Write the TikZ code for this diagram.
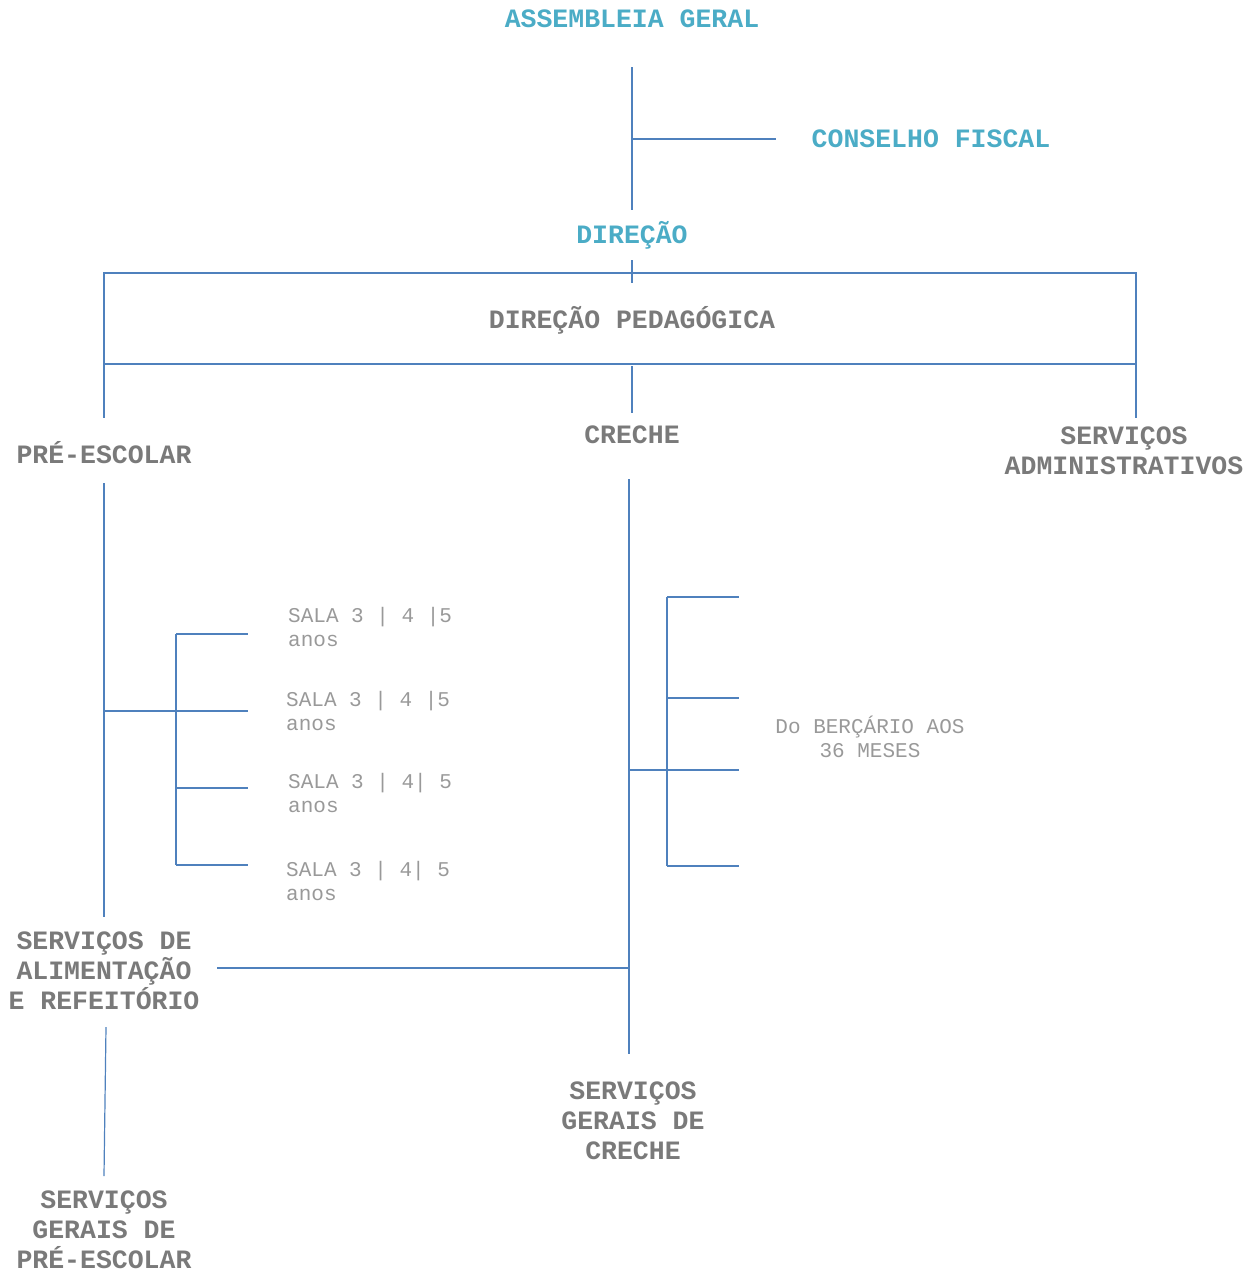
\documentclass[tikz,border=0pt]{standalone}
\usepackage{fontspec}
\newfontfamily\cour{Liberation Mono}
\definecolor{cLine}{HTML}{4F81BD}
\definecolor{cTitle}{HTML}{4BACC6}
\definecolor{cGray}{HTML}{7A7A7A}
\definecolor{cLight}{HTML}{999999}
\begin{document}
\begin{tikzpicture}[x=1pt,y=-1pt,
  conn/.style={draw=cLine,line width=1.2pt},
  titlest/.style={text=cTitle,font=\cour\bfseries\fontsize{26.5}{30}\selectfont,inner sep=0pt},
  unitst/.style={text=cGray,font=\cour\bfseries\fontsize{26.5}{30}\selectfont,align=center,inner sep=0pt},
  salast/.style={text=cLight,font=\cour\fontsize{21}{24}\selectfont,align=left,inner sep=0pt,anchor=west},
  notest/.style={text=cLight,font=\cour\fontsize{21}{24}\selectfont,align=center,inner sep=0pt}]
\useasboundingbox (0,0) rectangle (1254,1272);

% nodes
\node[titlest] (ag) at (632,19) {ASSEMBLEIA GERAL};
\node[titlest] (cf) at (931,139) {CONSELHO FISCAL};
\node[titlest] (dir) at (632,235) {DIREÇÃO};
\node[unitst] (dp) at (632,320) {DIREÇÃO PEDAGÓGICA};
\node[unitst] (pe) at (104,453) {PRÉ-ESCOLAR};
\node[unitst] (cr) at (632,435) {CRECHE};
\node[unitst] (sa) at (1124,451) {SERVIÇOS\\ADMINISTRATIVOS};
\node[unitst] (sal) at (104,971) {SERVIÇOS DE\\ALIMENTAÇÃO\\E REFEITÓRIO};
\node[unitst] (sgp) at (104,1230) {SERVIÇOS\\GERAIS DE\\PRÉ-ESCOLAR};
\node[unitst] (sgc) at (633,1121) {SERVIÇOS\\GERAIS DE\\CRECHE};
\node[salast] (s1) at (288,627) {SALA 3 | 4 |5\\anos};
\node[salast] (s2) at (286,711) {SALA 3 | 4 |5\\anos};
\node[salast] (s3) at (288,793) {SALA 3 | 4| 5\\anos};
\node[salast] (s4) at (286,881) {SALA 3 | 4| 5\\anos};
\node[notest] (ber) at (870,737) {Do BERÇÁRIO AOS\\36 MESES};

% coordinates
\coordinate (agB) at (632,67);
\coordinate (dirT) at (632,210);
\coordinate (cfJ) at (632,139);
\coordinate (cfE) at (776,139);
\coordinate (dirB) at (632,260);
\coordinate (boxT) at (632,283);
\coordinate (boxTL) at (104,273);
\coordinate (boxBR) at (1136,364);
\coordinate (peT) at (104,418);
\coordinate (saT) at (1136,418);
\coordinate (boxTR) at (1136,273);
\coordinate (midA) at (632,366);
\coordinate (crT) at (632,413);
\coordinate (peB) at (104,483);
\coordinate (salT) at (104,917);
\coordinate (peJ) at (104,711);
\coordinate (lb1) at (176,634);
\coordinate (lb3) at (176,788);
\coordinate (lb4) at (176,865);
\coordinate (le1) at (248,634);
\coordinate (le2) at (248,711);
\coordinate (le3) at (248,788);
\coordinate (le4) at (248,865);
\coordinate (crB) at (629,479);
\coordinate (sgcT) at (629,1054);
\coordinate (rb1) at (667,597);
\coordinate (rb2) at (667,698);
\coordinate (rb4) at (667,866);
\coordinate (crJ) at (629,770);
\coordinate (re1) at (739,597);
\coordinate (re2) at (739,698);
\coordinate (re3) at (739,770);
\coordinate (re4) at (739,866);
\coordinate (salE) at (217,968);
\coordinate (crJ2) at (629,968);
\coordinate (salB) at (106,1027);
\coordinate (sgpT) at (104,1176);

% connectors
\draw[conn] (agB) -- (dirT);
\draw[conn] (cfJ) -- (cfE);
\draw[conn] (dirB) -- (boxT);
\draw[conn] (boxTL) rectangle (boxBR);
\draw[conn] (boxTL) -- (peT);
\draw[conn] (boxTR) -- (saT);
\draw[conn] (midA) -- (crT);
\draw[conn] (peB) -- (salT);
\draw[conn] (peJ) -- (le2);
\draw[conn] (lb1) -- (lb4);
\draw[conn] (lb1) -- (le1);
\draw[conn] (lb3) -- (le3);
\draw[conn] (lb4) -- (le4);
\draw[conn] (crB) -- (sgcT);
\draw[conn] (rb1) -- (rb4);
\draw[conn] (rb1) -- (re1);
\draw[conn] (rb2) -- (re2);
\draw[conn] (crJ) -- (re3);
\draw[conn] (rb4) -- (re4);
\draw[conn] (salE) -- (crJ2);
\draw[conn] (salB) -- (sgpT);
\end{tikzpicture}
\end{document}
